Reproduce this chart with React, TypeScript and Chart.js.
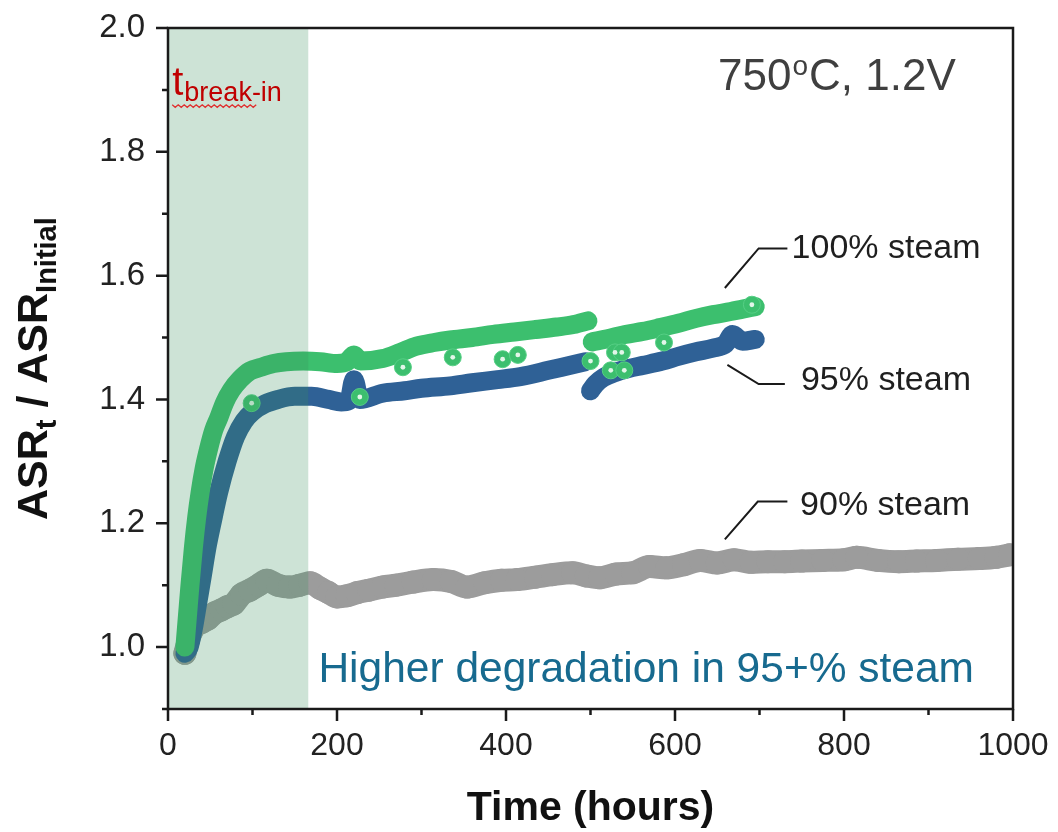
import React, { useEffect, useRef } from "react";
import { Chart, registerables } from "chart.js";

Chart.register(...registerables);

const FAMILY = '"Liberation Sans", Arial, Helvetica, sans-serif';

// ---- axis ticks ----
const X_TICKS = [0, 200, 400, 600, 800, 1000];
const X_MINOR = [100, 300, 500, 700, 900];
const Y_TICKS = [1.0, 1.2, 1.4, 1.6, 1.8, 2.0];
const Y_MINOR = [0.9, 1.1, 1.3, 1.5, 1.7, 1.9];

// break-in window (hours)
const BREAKIN_START = 0;
const BREAKIN_END = 166;

// ---- 100% steam (first segment, then after restart) ----
const T100_A = [20, 23, 26, 30, 34, 38, 43, 48, 54, 60, 67, 75, 85, 97, 110, 125, 140, 160, 180, 200, 212, 220, 228, 254, 275, 294, 315, 334, 360, 385, 410, 435, 460, 480, 497];
const V100_A = [1.0, 1.05, 1.1, 1.16, 1.21, 1.25, 1.29, 1.32, 1.35, 1.37, 1.395, 1.415, 1.432, 1.446, 1.452, 1.458, 1.461, 1.462, 1.461, 1.458, 1.461, 1.472, 1.462, 1.466, 1.476, 1.486, 1.492, 1.496, 1.5, 1.505, 1.509, 1.513, 1.517, 1.521, 1.527];
const T100_B = [502, 520, 541, 562, 582, 604, 625, 645, 666, 680, 695];
const V100_B = [1.493, 1.498, 1.505, 1.51, 1.516, 1.523, 1.531, 1.537, 1.542, 1.546, 1.55];
const T100_OUT = [99, 227, 278, 337, 396, 414, 500, 524, 540, 529, 537, 587, 691];
const V100_OUT = [1.394, 1.404, 1.452, 1.468, 1.465, 1.472, 1.462, 1.447, 1.447, 1.476, 1.476, 1.492, 1.553];

// ---- 95% steam ----
const T95_A = [20, 25, 30, 35, 40, 46, 52, 60, 70, 80, 90, 100, 115, 130, 150, 170, 190, 205, 214, 220, 227, 254, 280, 300, 334, 360, 390, 417, 450, 475, 494];
const V95_A = [0.99, 1.0, 1.03, 1.07, 1.11, 1.16, 1.2, 1.25, 1.3, 1.34, 1.365, 1.38, 1.393, 1.4, 1.405, 1.405, 1.4, 1.396, 1.398, 1.432, 1.4, 1.41, 1.414, 1.418, 1.422, 1.427, 1.432, 1.437, 1.447, 1.455, 1.461];
const T95_B = [500, 506, 515, 530, 545, 562, 585, 605, 625, 645, 660, 668, 680, 695];
const V95_B = [1.414, 1.425, 1.435, 1.444, 1.45, 1.455, 1.462, 1.47, 1.477, 1.483, 1.49, 1.505, 1.494, 1.497];

// ---- 90% steam ----
const T90 = [20, 24, 28, 33, 40, 47, 55, 63, 70, 78, 87, 97, 107, 117, 130, 144, 156, 168, 180, 190, 200, 212, 224, 238, 254, 270, 290, 314, 335, 354, 375, 395, 413, 435, 455, 479, 495, 511, 530, 550, 570, 590, 610, 630, 650, 670, 690, 710, 730, 750, 775, 800, 815, 840, 865, 886, 910, 935, 960, 980, 996];
const V90 = [0.99, 1.01, 1.025, 1.035, 1.04, 1.045, 1.055, 1.06, 1.065, 1.07, 1.085, 1.092, 1.1, 1.108, 1.1, 1.097, 1.1, 1.104, 1.095, 1.088, 1.081, 1.083, 1.088, 1.092, 1.097, 1.1, 1.105, 1.109, 1.106, 1.097, 1.104, 1.108, 1.109, 1.113, 1.117, 1.12, 1.115, 1.112, 1.118, 1.12, 1.13, 1.128, 1.133, 1.14, 1.136, 1.141, 1.137, 1.138, 1.138, 1.139, 1.14, 1.141, 1.145, 1.14, 1.138, 1.139, 1.14, 1.142, 1.143, 1.145, 1.149];

const GREEN = "#3cbf6e";
const BLUE = "#2f6196";
const GRAY = "#9c9c9c";

const pts = (t: number[], v: number[]) => t.map((x, i) => ({ x, y: v[i] }));

const lineSet = (t: number[], v: number[], color: string, width: number, radius: number, order: number) => ({
  data: pts(t, v),
  showLine: true,
  borderColor: color,
  borderWidth: width,
  borderCapStyle: "round",
  borderJoinStyle: "round",
  cubicInterpolationMode: "monotone",
  pointRadius: radius,
  pointBackgroundColor: color,
  pointBorderWidth: 0,
  order,
});

const font = (w: string, s: number) => `${w} ${s}px ${FAMILY}`;

const decoPlugin = {
  id: "deco",
  afterDatasetsDraw(chart: any) {
    const { ctx, chartArea: a, scales } = chart;
    const xs = scales.x;
    const ys = scales.y;
    ctx.save();
    const x0 = xs.getPixelForValue(BREAKIN_START);
    const x1 = xs.getPixelForValue(BREAKIN_END);
    ctx.fillStyle = "rgba(56,144,92,0.25)";
    ctx.fillRect(x0, a.top, x1 - x0, a.bottom - a.top);

    ctx.strokeStyle = "#1a1a1a";
    ctx.lineWidth = 2.5;
    ctx.strokeRect(a.left, a.top, a.right - a.left, a.bottom - a.top);
    ctx.beginPath();
    for (const v of Y_TICKS) {
      const y = ys.getPixelForValue(v);
      ctx.moveTo(a.left - 12, y);
      ctx.lineTo(a.left, y);
    }
    for (const v of Y_MINOR) {
      const y = ys.getPixelForValue(v);
      ctx.moveTo(a.left - 6, y);
      ctx.lineTo(a.left, y);
    }
    for (const v of X_TICKS) {
      const x = xs.getPixelForValue(v);
      ctx.moveTo(x, a.bottom);
      ctx.lineTo(x, a.bottom + 12);
    }
    for (const v of X_MINOR) {
      const x = xs.getPixelForValue(v);
      ctx.moveTo(x, a.bottom);
      ctx.lineTo(x, a.bottom + 6);
    }
    ctx.stroke();
    ctx.restore();
  },
  afterDraw(chart: any) {
    const { ctx, chartArea: a, scales } = chart;
    const xs = scales.x;
    const ys = scales.y;
    const X = (v: number) => xs.getPixelForValue(v);
    const Y = (v: number) => ys.getPixelForValue(v);
    ctx.save();
    ctx.textBaseline = "alphabetic";
    ctx.textAlign = "left";

    // axis titles
    ctx.fillStyle = "#111";
    ctx.font = font("bold", 41);
    ctx.textAlign = "center";
    ctx.fillText("Time (hours)", (a.left + a.right) / 2, 820);
    ctx.textAlign = "left";

    ctx.save();
    ctx.translate(47, 520);
    ctx.rotate(-Math.PI / 2);
    let cx = 0;
    const part = (s: string, size: number, dy: number) => {
      ctx.font = font("bold", size);
      ctx.fillText(s, cx, dy);
      cx += ctx.measureText(s).width;
    };
    part("ASR", 43, 0);
    part("t", 29, 9);
    part(" / ASR", 43, 0);
    part("Initial", 29, 9);
    ctx.restore();

    // condition label
    ctx.fillStyle = "#3f3f3f";
    let px = X(651);
    const py = Y(1.924) + 15;
    ctx.font = font("normal", 44);
    ctx.fillText("750", px, py);
    px += ctx.measureText("750").width;
    ctx.font = font("normal", 28);
    ctx.fillText("o", px + 1, py - 15);
    px += ctx.measureText("o").width + 2;
    ctx.font = font("normal", 44);
    ctx.fillText("C, 1.2V", px, py);

    // break-in label
    ctx.fillStyle = "#c00000";
    ctx.font = font("normal", 40);
    const bx = X(5);
    const by = Y(1.892);
    ctx.fillText("t", bx, by);
    const tw = ctx.measureText("t").width;
    ctx.font = font("normal", 27);
    ctx.fillText("break-in", bx + tw + 1, by + 6);
    // wavy underline
    ctx.strokeStyle = "#e03030";
    ctx.lineWidth = 1.3;
    ctx.beginPath();
    const wy = by + 10;
    for (let i = 0; i <= 28; i++) {
      const xx = bx + i * 3;
      const yy = wy + (i % 2 === 0 ? 0 : 2.5);
      if (i === 0) ctx.moveTo(xx, yy);
      else ctx.lineTo(xx, yy);
    }
    ctx.stroke();

    // series labels with leaders
    ctx.strokeStyle = "#1a1a1a";
    ctx.lineWidth = 2;
    const leader = (p: number[][]) => {
      ctx.beginPath();
      p.forEach(([t, v], i) => (i === 0 ? ctx.moveTo(X(t), Y(v)) : ctx.lineTo(X(t), Y(v))));
      ctx.stroke();
    };
    leader([[659, 1.58], [699, 1.644], [733, 1.644]]);
    leader([[662, 1.456], [699, 1.425], [730, 1.425]]);
    leader([[659, 1.174], [698, 1.235], [733, 1.235]]);
    ctx.fillStyle = "#1f1f1f";
    ctx.font = font("normal", 34);
    ctx.textBaseline = "middle";
    ctx.fillText("100% steam", X(738), Y(1.644));
    ctx.fillText("95% steam", X(749), Y(1.43));
    ctx.fillText("90% steam", X(748), Y(1.228));

    // finding
    ctx.textBaseline = "alphabetic";
    ctx.fillStyle = "#176a8f";
    ctx.font = font("normal", 42.5);
    ctx.fillText("Higher degradation in 95+% steam", X(178), 682);
    ctx.restore();
  },
};

export default function App() {
  const ref = useRef<HTMLCanvasElement | null>(null);
  useEffect(() => {
    if (!ref.current) return;
    const chart = new Chart(ref.current, {
      type: "scatter",
      data: {
        datasets: [
          {
            data: pts(T100_OUT, V100_OUT),
            pointRadius: 8.5,
            pointBackgroundColor: GREEN,
            pointBorderColor: "#56cf85",
            pointBorderWidth: 1,
            order: -2,
          } as any,
          {
            data: pts(T100_OUT, V100_OUT),
            pointRadius: 2.4,
            pointBackgroundColor: "rgba(255,255,255,0.85)",
            pointBorderWidth: 0,
            order: -3,
          } as any,
          lineSet(T100_A, V100_A, GREEN, 19, 0, 0) as any,
          lineSet(T100_B, V100_B, GREEN, 19, 0, 0) as any,
          lineSet(T95_A, V95_A, BLUE, 19, 0, 1) as any,
          lineSet(T95_B, V95_B, BLUE, 19, 0, 1) as any,
          lineSet(T90, V90, GRAY, 23, 11.5, 2) as any,
        ],
      },
      options: {
        animation: false,
        responsive: true,
        maintainAspectRatio: false,
        layout: { padding: { top: 28, right: 45, left: 0, bottom: 0 } },
        plugins: { legend: { display: false }, tooltip: { enabled: false } },
        scales: {
          x: {
            type: "linear",
            min: 0,
            max: 1000,
            grid: { display: false, drawTicks: false },
            border: { display: false },
            ticks: {
              padding: 18,
              color: "#222",
              font: { size: 32, family: FAMILY },
              maxRotation: 0,
              autoSkip: false,
              callback: (v: any) => String(v),
            },
            afterBuildTicks: (s: any) => {
              s.ticks = X_TICKS.map((value) => ({ value }));
            },
            afterFit: (s: any) => {
              s.height = 123;
              s.paddingLeft = 0;
              s.paddingRight = 0;
              s.paddingTop = 0;
              s.paddingBottom = 0;
            },
          },
          y: {
            type: "linear",
            min: 0.9,
            max: 2.0,
            grid: { display: false, drawTicks: false },
            border: { display: false },
            ticks: {
              padding: 23,
              color: "#222",
              font: { size: 33, family: FAMILY },
              autoSkip: false,
              callback: (v: any) => Number(v).toFixed(1),
            },
            afterBuildTicks: (s: any) => {
              s.ticks = Y_TICKS.map((value) => ({ value }));
            },
            afterFit: (s: any) => {
              s.width = 168;
              s.paddingLeft = 0;
              s.paddingRight = 0;
              s.paddingTop = 0;
              s.paddingBottom = 0;
            },
          },
        },
      } as any,
      plugins: [decoPlugin],
    });
    return () => chart.destroy();
  }, []);
  return (
    <div style={{ position: "absolute", left: 0, top: 0, width: 1058, height: 832, background: "#fff" }}>
      <canvas ref={ref} />
    </div>
  );
}
